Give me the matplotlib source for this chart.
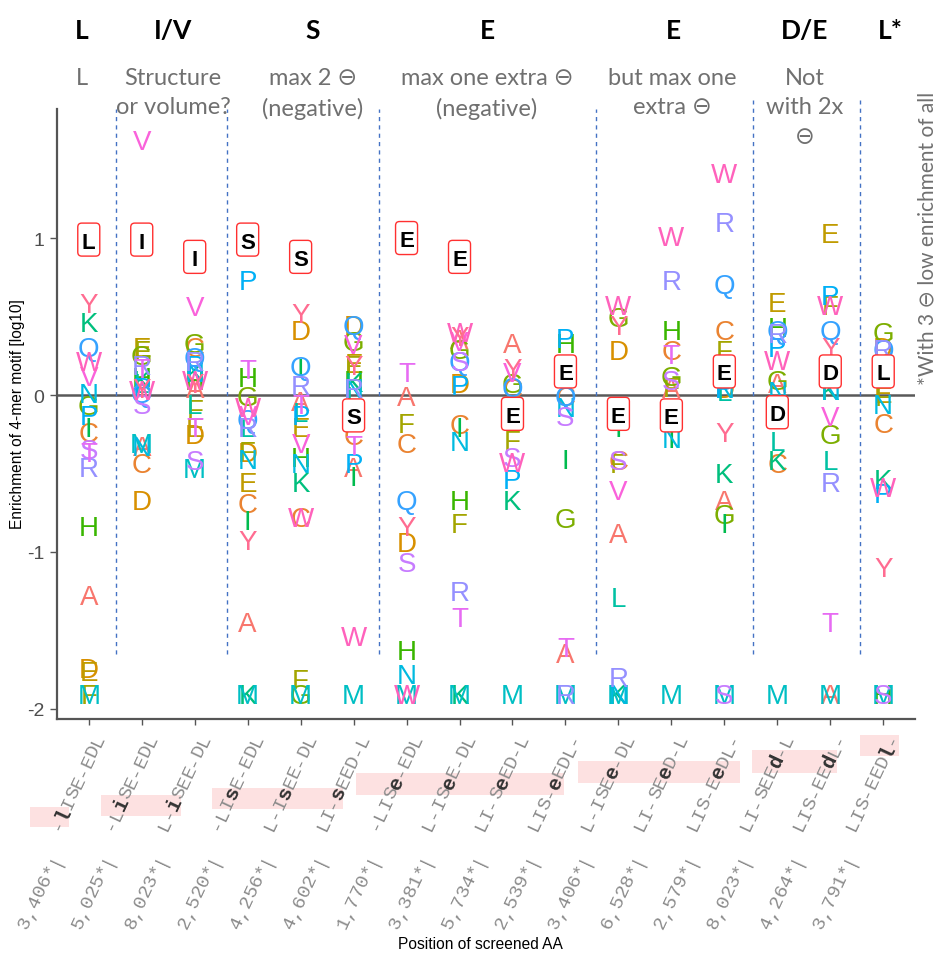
import numpy as np
import matplotlib.pyplot as plt
from matplotlib.patches import Rectangle, FancyBboxPatch
from matplotlib.transforms import ScaledTranslation

nan = np.nan

# screened positions (x) and their labels
positions = list(range(1, 17))
counts = ["3,406*|", "5,025*|", "8,023*|", "2,520*|", "4,256*|", "4,602*|", "1,770*|", "3,381*|",
          "5,734*|", "2,539*|", "3,406*|", "6,528*|", "2,579*|", "8,023*|", "4,264*|", "3,791*|"]
motifs = ["-lISE-EDL", "-LiSE-EDL", "L-iSEE-DL", "-LIsE-EDL", "L-IsEE-DL", "LI-sEED-L", "-LISe-EDL", "L-ISeE-DL",
          "LI-SeED-L", "LIS-eEDL-", "L-ISEe-DL", "LI-SEeD-L", "LIS-EeDL-", "LI-SEEd-L", "LIS-EEdL-", "LIS-EEDl-"]
hl_index = [1, 2, 2, 3, 3, 3, 4, 4, 4, 4, 5, 5, 5, 6, 6, 7]
wildtype = ["L", "I", "I", "S", "S", "S", "E", "E", "E", "E", "E", "E", "E", "D", "D", "L"]

# enrichment (log10) of each amino acid at each position
enr_A = [-1.27, -0.32, 0.05, -1.44, -0.03, -0.45, 0.00, 0.36, 0.34, -1.64, -0.87, 0.05, -0.66, 0.08, -1.90, nan]
enr_C = [-0.23, -0.43, 0.31, -0.68, -0.77, -0.25, -0.30, -0.18, 0.05, 0.00, -0.41, 0.29, 0.42, -0.43, nan, -0.17]
enr_D = [-1.73, -0.66, -0.24, -0.36, 0.42, 0.45, -0.93, 0.08, nan, nan, 0.29, nan, 0.05, -0.11, 0.15, 0.31]
enr_E = [-1.75, 0.31, -0.20, -0.55, -0.20, 0.21, 1.00, 0.88, -0.12, 0.15, -0.12, -0.13, 0.15, 0.60, 1.04, 0.02]
enr_F = [-1.90, 0.29, -0.08, -0.35, -1.80, 0.20, -0.17, -0.81, -0.28, nan, -0.43, 0.06, 0.29, nan, 0.58, 0.00]
enr_G = [-0.06, 0.26, 0.34, 0.00, -1.90, 0.35, nan, 0.30, 0.08, -0.78, 0.50, 0.13, -0.75, 0.10, -0.24, 0.41]
enr_H = [-0.83, 0.12, 0.10, 0.12, -0.39, 0.10, -1.62, -0.66, nan, 0.34, nan, 0.42, nan, 0.44, nan, -1.90]
enr_I = [-0.20, 0.99, 0.88, -0.79, 0.18, -0.51, nan, -0.20, nan, -0.40, -0.20, -0.27, -0.81, nan, nan, nan]
enr_K = [0.47, 0.10, 0.15, -1.90, -0.55, 0.09, nan, -1.90, -0.66, nan, -1.90, nan, -0.49, -0.41, 0.04, -0.53]
enr_L = [0.99, 0.08, -0.05, -0.20, -0.10, 0.00, nan, nan, nan, nan, -1.28, nan, 0.03, -0.29, -0.41, 0.15]
enr_M = [-1.90, -0.30, -0.46, -1.90, -1.90, -1.90, -1.90, -1.90, -1.90, -1.90, -1.90, -1.90, -1.90, -1.90, -1.90, -1.90]
enr_N = [0.02, -0.32, 0.15, -0.40, -0.43, 0.05, -1.77, -0.29, nan, -0.07, -1.90, -0.27, 0.05, 0.03, 0.04, -0.05]
enr_P = [-0.12, 0.06, 0.20, 0.74, -0.12, -0.43, nan, 0.07, -0.53, 0.37, -0.08, nan, 0.05, 0.31, 0.64, -0.62]
enr_Q = [0.31, 0.02, 0.25, -0.15, 0.19, 0.45, -0.66, 0.22, 0.06, 0.00, -0.10, nan, 0.71, 0.42, 0.42, 0.30]
enr_R = [-0.45, 0.20, 0.22, -0.20, 0.07, 0.05, nan, -1.24, nan, -1.90, -1.79, 0.74, 1.11, 0.40, -0.55, 0.30]
enr_S = [-0.34, -0.05, -0.41, 0.99, 0.88, -0.13, -1.06, 0.22, -0.39, -0.13, -0.41, 0.10, -1.90, nan, nan, -1.90]
enr_T = [-0.36, 0.18, -0.20, 0.17, -0.05, -0.31, 0.15, -1.41, nan, -1.60, nan, 0.27, nan, nan, -1.44, nan]
enr_V = [0.13, 1.63, 0.57, -0.12, -0.30, 0.33, nan, 0.35, 0.15, 0.18, -0.60, nan, nan, nan, -0.13, nan]
enr_W = [0.22, 0.04, 0.10, -0.07, -0.77, -1.53, -1.90, 0.41, -0.42, nan, 0.58, 1.02, 1.42, 0.23, 0.58, -0.58]
enr_Y = [0.59, 0.05, 0.08, -0.92, 0.53, 0.20, -0.83, 0.38, 0.18, nan, 0.45, nan, -0.23, nan, 0.31, -1.09]

aa_order = list("ACDEFGHIKLMNPQRSTVWY")
enrichment = dict(zip(aa_order, [enr_A, enr_C, enr_D, enr_E, enr_F, enr_G, enr_H, enr_I, enr_K, enr_L,
                                 enr_M, enr_N, enr_P, enr_Q, enr_R, enr_S, enr_T, enr_V, enr_W, enr_Y]))
# ggplot default hue palette for 20 levels
hue = ["#F8766D", "#EA8331", "#D89000", "#C09B00", "#A3A500", "#7CAE00", "#39B600", "#00BB4E", "#00BF7D", "#00C1A3",
       "#00BFC4", "#00BAE0", "#00B0F6", "#35A2FF", "#9590FF", "#C77CFF", "#E76BF3", "#FA62DB", "#FF62BC", "#FF6C91"]

plt.rcParams['font.family'] = ['Liberation Sans', 'DejaVu Sans']
plt.rcParams['axes.unicode_minus'] = False

W, H = 939, 954
fig = plt.figure(figsize=(W / 100, H / 100), dpi=100)


def fx(px):
    return px / W


def fy(py):
    return 1 - py / H


ax = fig.add_axes([fx(57), fy(720), fx(915) - fx(57), fy(110) - fy(720)])
ax.set_xlim(0.4, 16.6)
ax.set_ylim(-2.064, 1.822)
for side in ['top', 'right']:
    ax.spines[side].set_visible(False)
for side in ['left', 'bottom']:
    ax.spines[side].set_color('#555555')
    ax.spines[side].set_linewidth(1.6)
ax.set_yticks([-2, -1, 0, 1])
ax.set_yticklabels(['-2', '-1', '0', '1'])
ax.tick_params(axis='y', labelsize=14, colors='#555555', labelcolor='#4D4D4D', length=5, width=1, pad=4)
ax.set_xticks(positions)
ax.set_xticklabels([])
ax.tick_params(axis='x', colors='#555555', length=4, width=1)

ax.axhline(0, color='#595959', lw=1.8, zorder=1)

# group separators
sep_x = [1.51, 3.61, 6.48, 10.58, 13.54, 15.56]
sep_top = [1.822, 1.822, 1.822, 1.822, 1.88, 1.88]
for x, top in zip(sep_x, sep_top):
    ax.plot([x, x], [-1.65, top], color='#4472C4', lw=1, ls=(0, (3, 3)), clip_on=False, zorder=1)

# letters
fs = 20
shift = ScaledTranslation(0, -0.716 * fs / 72 / 2, fig.dpi_scale_trans)
for aa, col in zip(aa_order, hue):
    for pos, v, wt in zip(positions, enrichment[aa], wildtype):
        if np.isnan(v):
            continue
        if aa == wt:
            # wild-type residue: bold black letter in a red rounded box
            box_tr = fig.dpi_scale_trans + ScaledTranslation(pos, v, ax.transData)
            ax.add_patch(FancyBboxPatch((-0.11, -0.165), 0.22, 0.33, boxstyle='round,pad=0,rounding_size=0.04',
                                        transform=box_tr, fc='white', ec='#FF3030', lw=1.0, zorder=5))
            ax.text(pos, v, aa, fontsize=16, fontweight='bold', color='black', ha='center', va='baseline',
                    transform=ax.transData + ScaledTranslation(0, -0.716 * 16 / 72 / 2, fig.dpi_scale_trans),
                    zorder=6)
        else:
            ax.text(pos, v, aa, fontsize=fs, color=col, ha='center', va='baseline',
                    transform=ax.transData + shift, zorder=3)

# x tick labels in monospace, written char by char so the screened residue can be bold
ang = np.deg2rad(65)
adv = 0.6 * 14 / 72


def mono_label(pos, text, end_dx, end_dy, hi=None):
    n = len(text)
    for i, ch in enumerate(text):
        d = (n - i - 0.5) * adv
        off = ScaledTranslation(end_dx - d * np.cos(ang), end_dy - d * np.sin(ang), fig.dpi_scale_trans)
        bold = (i == hi)
        ax.text(pos, 0, ch, transform=ax.get_xaxis_transform() + off, rotation=65, rotation_mode='anchor',
                ha='center', va='center', family='Liberation Mono', fontsize=15 if bold else 14,
                fontweight='bold' if bold else 'normal', color='#333333' if bold else '#8C8C8C', clip_on=False)


for pos, motif, k, cnt in zip(positions, motifs, hl_index, counts):
    mono_label(pos, motif, 0.12, -0.15, hi=k)
    mono_label(pos, cnt, -0.31, -1.34)

# pink highlight bands behind the screened residues
pink_boxes = [(30, 808, 69, 828), (101, 796, 181, 817), (212, 789, 343, 810), (356, 774, 564, 796),
              (578, 762, 740, 784), (752, 751, 837, 774), (860, 736, 899, 757)]
for x0, y0, x1, y1 in pink_boxes:
    fig.add_artist(Rectangle((fx(x0), fy(y1)), fx(x1) - fx(x0), fy(y0) - fy(y1), transform=fig.transFigure,
                             fc='#FDE1E1', ec='none', zorder=-1))

# axis titles
fig.text(fx(480), fy(945), 'Position of screened AA', ha='center', va='center', fontsize=11.2, color='black')
fig.text(fx(18), fy(414), 'Enrichment of 4-mer motif [log10]', ha='center', va='center', rotation=90,
         fontsize=11.2, color='black')

# header annotations
ann_font = ['Lato', 'DejaVu Sans']
headers = ['L', 'I/V', 'S', 'E', 'E', 'D/E', 'L*']
header_x = [82, 173, 313, 487, 673, 805, 890]
for t, x in zip(headers, header_x):
    fig.text(fx(x), fy(31), t, ha='center', va='center', fontsize=19, fontweight='bold', family=ann_font,
             color='black')

notes = ['L', 'Structure\nor volume?', 'max 2 \u2296\n(negative)', 'max one extra \u2296\n(negative)',
         'but max one\nextra \u2296', 'Not\nwith 2x\n\u2296']
note_x = [82, 173, 313, 487, 672, 805]
for t, x in zip(notes, note_x):
    fig.text(fx(x), fy(68), t, ha='center', va='top', fontsize=17, family=ann_font, color='#707070',
             linespacing=1.5)

fig.text(fx(927), fy(238), '*With 3 \u2296 low enrichment of all', ha='center', va='center', rotation=90,
         fontsize=15, family=ann_font, color='#707070')

fig.savefig('out.png', dpi=100)
